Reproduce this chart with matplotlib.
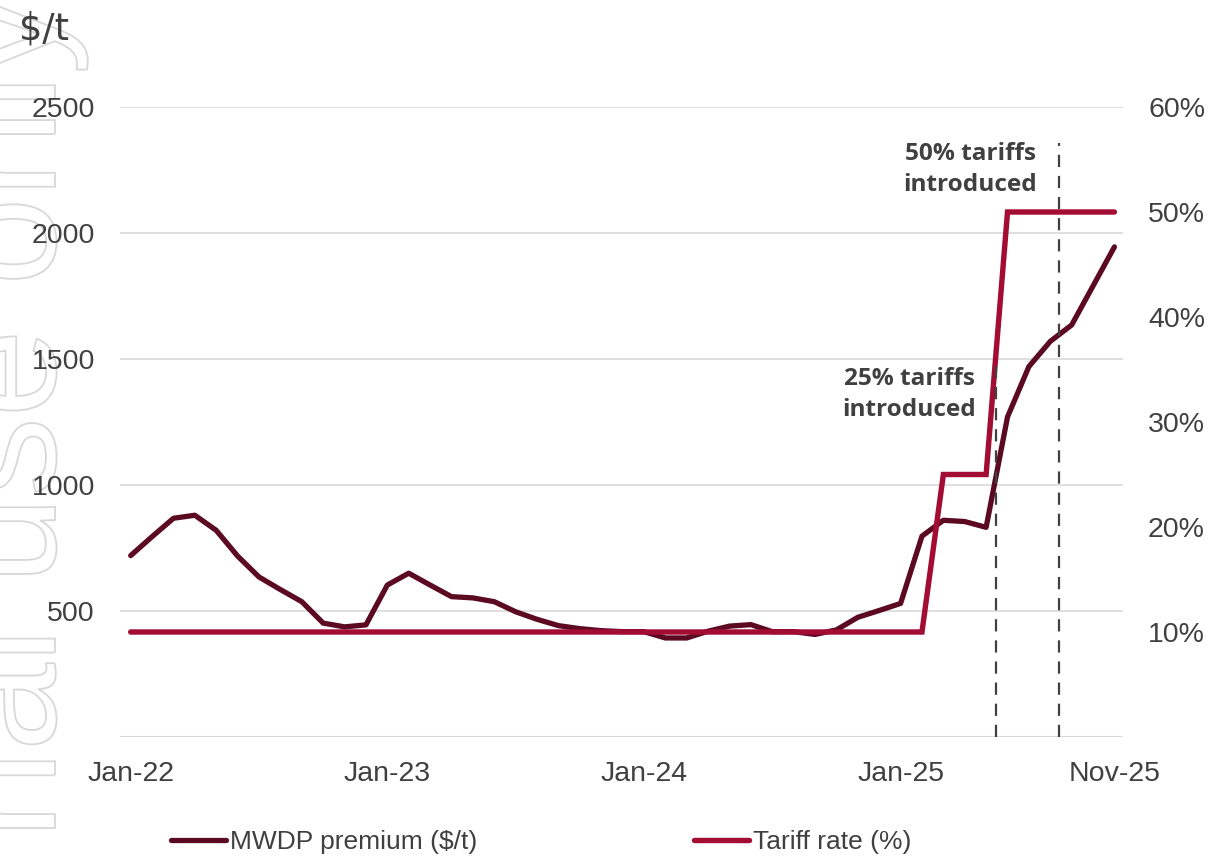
import matplotlib
matplotlib.use("Agg")
import matplotlib.pyplot as plt
from matplotlib.textpath import TextPath
from matplotlib.patches import PathPatch
from matplotlib.font_manager import FontProperties
from matplotlib.transforms import Affine2D
from matplotlib.lines import Line2D

# ---------------- data ----------------
month_labels = [f"{m}-{y}" for y in ["22", "23", "24", "25"]
                for m in ["Jan", "Feb", "Mar", "Apr", "May", "Jun",
                          "Jul", "Aug", "Sep", "Oct", "Nov", "Dec"]][:47]

premium = [720, 795, 868, 880, 820, 718, 635, 585, 537, 452, 437, 445,
           603, 650, 603, 557, 552, 537, 497, 467, 442, 430, 422, 418,
           418, 393, 393, 420, 440, 446, 418, 418, 407, 425, 475, 502,
           530, 797, 860, 855, 832, 1270, 1470, 1570, 1635, 1790, 1945]

tariff = [0.10] * 37 + [0.10, 0.25, 0.25, 0.25, 0.50, 0.50, 0.50, 0.50, 0.50, 0.50]

xtick_labels = ["Jan-22", "Jan-23", "Jan-24", "Jan-25", "Nov-25"]
left_ticks = [500, 1000, 1500, 2000, 2500]
right_ticks = [0.1, 0.2, 0.3, 0.4, 0.5, 0.6]
right_tick_labels = ["10%", "20%", "30%", "40%", "50%", "60%"]

series_names = ["MWDP premium ($/t)", "Tariff rate (%)"]
annot_25 = "25% tariffs\nintroduced"
annot_50 = "50% tariffs\nintroduced"
watermark = "For internal use only"

# ---------------- style ----------------
C_PREM = "#5B0A22"
C_TAR = "#A30D33"
C_TXT = "#404040"
C_GRID = "#D9D9D9"
TICK_FONT = "Liberation Sans"

W, H = 1210, 856
fig = plt.figure(figsize=(W / 100, H / 100), dpi=100)
fig.patch.set_facecolor("white")

# watermark (outlined text, rotated)
fp = FontProperties(family="Liberation Sans")
tp = TextPath((0, 0), watermark, size=158, prop=fp)
ext = tp.get_extents()
tr = Affine2D().translate(-ext.x1, 0).rotate_deg(90).translate(55, H + 4)
wm = PathPatch(tp, transform=tr, facecolor="none", edgecolor="#D8D8D8", lw=1.3, zorder=-5)
fig.add_artist(wm)

ax = fig.add_axes([120 / W, 1 - 737 / H, (1123 - 120) / W, (737 - 107) / H])
ax.patch.set_alpha(0)
ax2 = ax.twinx()
ax2.patch.set_alpha(0)

x = list(range(len(premium)))

ax.plot(x, premium, color=C_PREM, lw=3.8, solid_capstyle="round",
        solid_joinstyle="round", zorder=3)
ax2.plot(x, tariff, color=C_TAR, lw=3.9, solid_capstyle="round",
         solid_joinstyle="miter", zorder=3)

# dashed event lines
ax2.plot([40.45, 40.45], [0, 0.356], color=C_TXT, lw=1.6, ls=(0, (5.5, 4)), zorder=4)
ax2.plot([43.4, 43.4], [0, 0.566], color=C_TXT, lw=1.6, ls=(0, (5.5, 4)), zorder=4)

ann_font = dict(family="Open Sans", weight="bold", size=17.6, color=C_TXT)
ax.text(36.4, 1360, annot_25, ha="center", va="center", linespacing=1.38, **ann_font)
ax.text(39.25, 2252, annot_50, ha="center", va="center", linespacing=1.38, **ann_font)

ax.set_xlim(-0.5, 46.4)
ax.set_ylim(0, 2500)
ax2.set_ylim(0, 0.6)

ax.set_xticks([0, 12, 24, 36, 46])
ax.set_xticklabels(xtick_labels)
ax.set_yticks(left_ticks)
ax.set_yticklabels([str(v) for v in left_ticks])
ax2.set_yticks(right_ticks)
ax2.set_yticklabels(right_tick_labels)

for a in (ax, ax2):
    for s in a.spines.values():
        s.set_visible(False)
    a.tick_params(length=0, labelsize=20.5, labelcolor=C_TXT)
    for lab in a.get_xticklabels() + a.get_yticklabels():
        lab.set_fontfamily(TICK_FONT)
ax.tick_params(axis="y", pad=18)
ax.tick_params(axis="x", pad=17)
ax2.tick_params(axis="y", pad=18)

ax.yaxis.grid(True, color=C_GRID, lw=1.2, zorder=0)
ax.axhline(0, color=C_GRID, lw=1.5, zorder=0)
ax.set_axisbelow(True)

fig.text(19 / W, 1 - 29 / H, "$/t", fontsize=26.5, color=C_TXT, family="DejaVu Sans",
         ha="left", va="center")

handles = [Line2D([], [], color=C_PREM, lw=3.8, solid_capstyle="round"),
           Line2D([], [], color=C_TAR, lw=3.9, solid_capstyle="round")]
leg = fig.legend(handles, series_names, loc="center", bbox_to_anchor=(541 / W, 14 / H),
                 ncol=2, frameon=False, handlelength=2.1, handletextpad=0.15,
                 columnspacing=8.2, prop=dict(family=TICK_FONT, size=19))
for t in leg.get_texts():
    t.set_color(C_TXT)

fig.savefig("out.png", dpi=100)
